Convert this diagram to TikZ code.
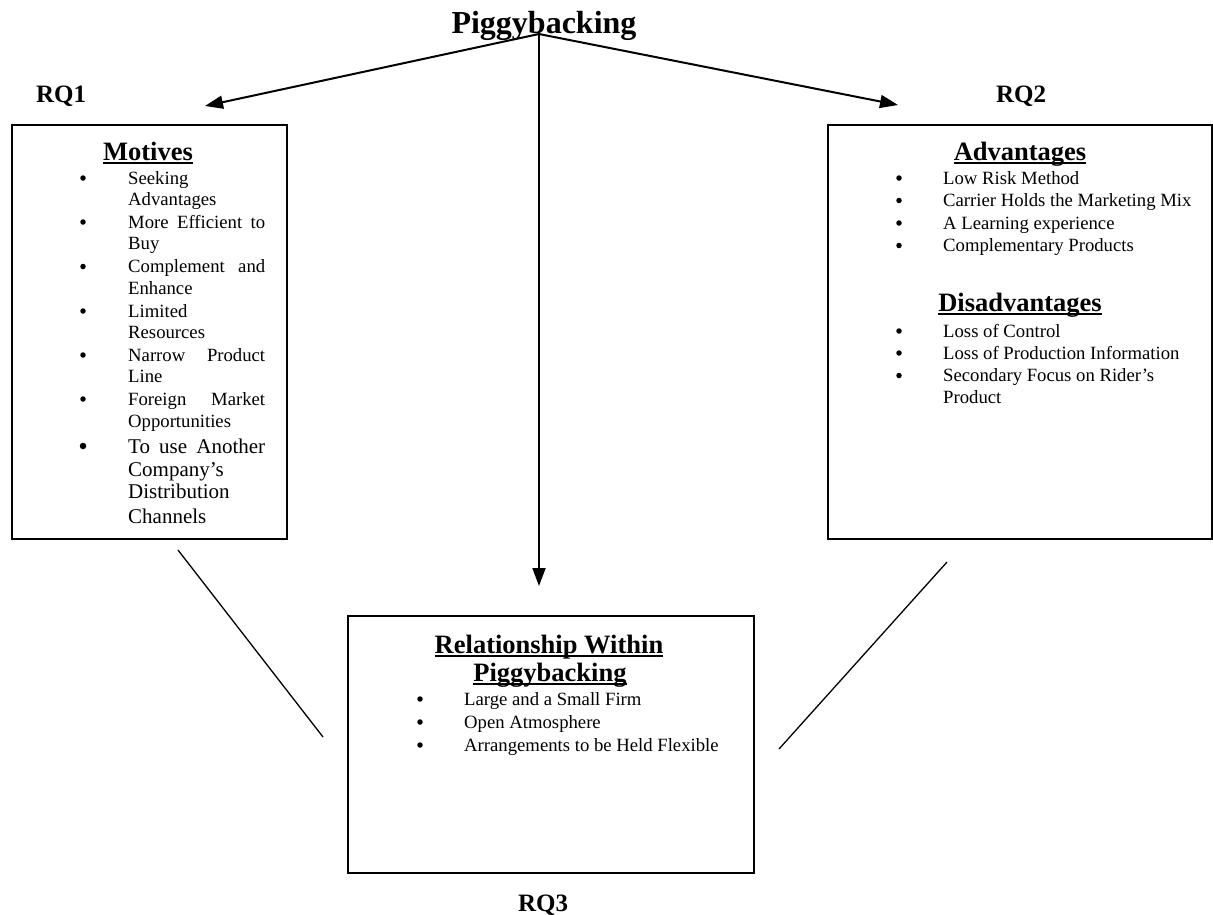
\documentclass[tikz,border=0pt]{standalone}
\usepackage{fontspec}
\setmainfont{Liberation Serif}
\usetikzlibrary{arrows.meta}
\newsavebox\ulsave
\newcommand\ulhead[1]{\sbox\ulsave{#1}\rlap{\rule[-3.5pt]{\wd\ulsave}{2pt}}\usebox\ulsave}
\tikzset{
  frame/.style={draw, line width=2pt, inner sep=0pt, anchor=north west},
  arr/.style={line width=2pt, -{Triangle[length=18pt,width=13pt]}},
  diag/.style={line width=1.3pt},
  body/.style={anchor=base west, inner sep=0pt, font=\fontsize{18.7pt}{22pt}\selectfont},
  bigbody/.style={anchor=base west, inner sep=0pt, font=\fontsize{21pt}{24pt}\selectfont},
  bul/.style={circle, fill, inner sep=0pt, minimum size=5.5pt},
  bigbul/.style={circle, fill, inner sep=0pt, minimum size=6.5pt},
  head/.style={anchor=base, inner sep=0pt, font=\fontsize{26.5pt}{30pt}\selectfont\bfseries},
  rq/.style={anchor=base, inner sep=0pt, font=\fontsize{25pt}{30pt}\selectfont\bfseries},
}
\begin{document}
\begin{tikzpicture}[x=1pt, y=-1pt]
\useasboundingbox (0,0) rectangle (1213,914);
% title
\node[anchor=base, inner sep=0pt, font=\fontsize{32pt}{36pt}\selectfont\bfseries] (title) at (544,33) {Piggybacking};
\coordinate (apex) at (539,34);
% RQ labels
\node[rq] (rq1) at (61,102) {RQ1};
\node[rq] (rq2) at (1021,102) {RQ2};
\node[rq] (rq3) at (543,911) {RQ3};
% boxes
\node[frame, minimum width=275pt, minimum height=414pt] (left) at (11,124) {};
\node[frame, minimum width=384pt, minimum height=414pt] (right) at (827,124) {};
\node[frame, minimum width=406pt, minimum height=257pt] (bottom) at (347,615) {};
% arrows
\coordinate (tip1) at (205,106);
\coordinate (tip2) at (898,105);
\coordinate (tip3) at (539,586);
\draw[arr] (apex) -- (tip1);
\draw[arr] (apex) -- (tip2);
\draw[arr] (apex) -- (tip3);
% diagonals
\coordinate (dl1) at (178,550);
\coordinate (dl2) at (323,737);
\coordinate (dr1) at (947,562);
\coordinate (dr2) at (779,749);
\draw[diag] (dl1) -- (dl2);
\draw[diag] (dr1) -- (dr2);
% left box content
\node[head] (mh) at (148,160) {\ulhead{Motives}};
\node[bul] (mb1) at (83,178) {};
\node[bul] (mb2) at (83,222) {};
\node[bul] (mb3) at (83,266.5) {};
\node[bul] (mb4) at (83,311) {};
\node[bul] (mb5) at (83,355) {};
\node[bul] (mb6) at (83,399) {};
\node[bigbul] (mb7) at (83,446) {};
\node[body] (m1) at (128,184) {Seeking};
\node[body] (m2) at (128,205.5) {Advantages};
\node[body] (m3) at (128,228) {\makebox[137pt][s]{More Efficient to}};
\node[body] (m4) at (128,249.5) {Buy};
\node[body] (m5) at (128,272.5) {\makebox[137pt][s]{Complement and}};
\node[body] (m6) at (128,294) {Enhance};
\node[body] (m7) at (128,317) {Limited};
\node[body] (m8) at (128,338) {Resources};
\node[body] (m9) at (128,361) {\makebox[137pt][s]{Narrow Product}};
\node[body] (m10) at (128,382) {Line};
\node[body] (m11) at (128,405) {\makebox[137pt][s]{Foreign Market}};
\node[body] (m12) at (128,427) {Opportunities};
\node[bigbody] (m13) at (128,453) {\makebox[137pt][s]{To use Another}};
\node[bigbody] (m14) at (128,476) {Company’s};
\node[bigbody] (m15) at (128,498.5) {Distribution};
\node[bigbody] (m16) at (128,523) {Channels};
% right box content
\node[head] (ah) at (1020,160) {\ulhead{Advantages}};
\node[bul] (ab1) at (899,178) {};
\node[bul] (ab2) at (899,200.5) {};
\node[bul] (ab3) at (899,223) {};
\node[bul] (ab4) at (899,245.5) {};
\node[body] (a1) at (943,184) {Low Risk Method};
\node[body] (a2) at (943,206.5) {Carrier Holds the Marketing Mix};
\node[body] (a3) at (943,229) {A Learning experience};
\node[body] (a4) at (943,251.5) {Complementary Products};
\node[head] (dh) at (1020,311.5) {\ulhead{Disadvantages}};
\node[bul] (db1) at (899,331) {};
\node[bul] (db2) at (899,353) {};
\node[bul] (db3) at (899,375.5) {};
\node[body] (d1) at (943,337) {Loss of Control};
\node[body] (d2) at (943,359) {Loss of Production Information};
\node[body] (d3) at (943,381.5) {Secondary Focus on Rider’s};
\node[body] (d4) at (943,403) {Product};
% bottom box content
\node[head] (rh1) at (549,653) {\ulhead{Relationship Within}};
\node[head] (rh2) at (550,681) {\ulhead{Piggybacking}};
\node[bul] (rb1) at (420,699) {};
\node[bul] (rb2) at (420,722) {};
\node[bul] (rb3) at (420,745) {};
\node[body] (r1) at (464,705) {Large and a Small Firm};
\node[body] (r2) at (464,728) {Open Atmosphere};
\node[body] (r3) at (464,751) {Arrangements to be Held Flexible};
\end{tikzpicture}
\end{document}
